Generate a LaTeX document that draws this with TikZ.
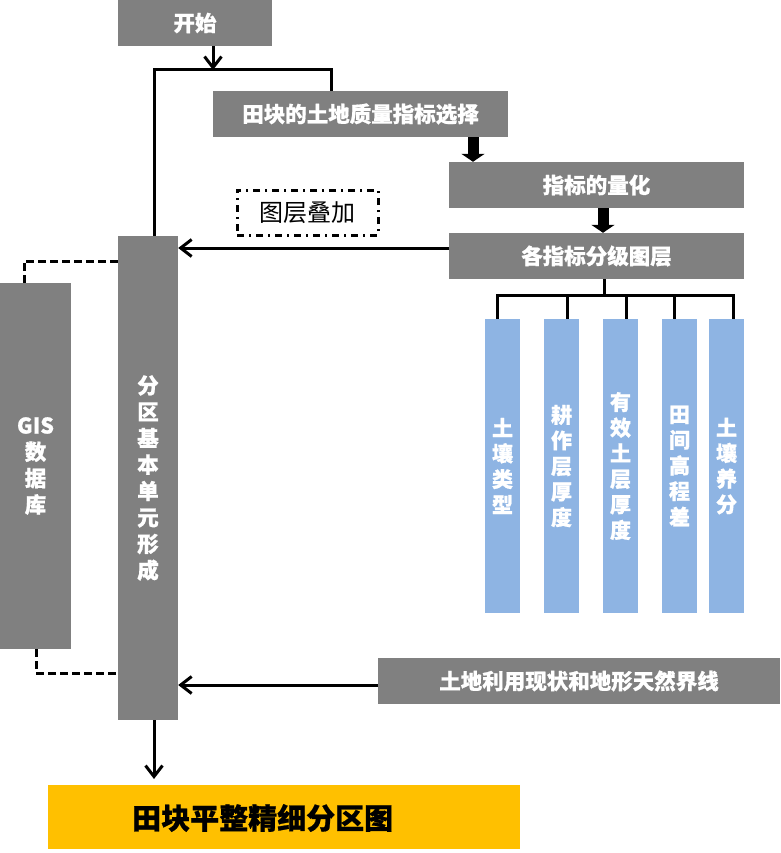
\documentclass[tikz,border=0pt]{standalone}
\usepackage{fontspec}
\newfontfamily\cjk{Noto Sans CJK SC}[BoldFeatures={FakeBold=0.8}]
\usetikzlibrary{arrows.meta,calc}
\definecolor{boxgray}{RGB}{128,128,128}
\definecolor{barblue}{RGB}{142,180,227}
\definecolor{orangefill}{RGB}{255,192,0}
\begin{document}
\begin{tikzpicture}[x=1pt,y=-1pt,
  gbox/.style={rectangle,fill=boxgray,inner sep=0pt,text=white,align=center,
    font=\cjk\bfseries\fontsize{21.5}{26.4}\selectfont},
  bbar/.style={rectangle,fill=barblue,inner sep=0pt,text=white,align=center,
    minimum width=35pt,minimum height=294pt,
    font=\cjk\bfseries\fontsize{21}{25.6}\selectfont},
  conn/.style={line width=3pt},
  arr/.style={conn,-{Straight Barb[length=11pt,width=17pt,line width=3pt]}},
  fatarr/.style={line width=11pt,-{Triangle[length=8pt,width=23pt]}},
  dashconn/.style={line width=3pt,dash pattern=on 8pt off 4pt},
]
\useasboundingbox (0,0) rectangle (780,853);

% boxes
\node[gbox,minimum width=154pt,minimum height=46pt] (start) at (195,23) {开始};
\node[gbox,minimum width=295pt,minimum height=46pt] (sel) at (360.5,114) {田块的土地质量指标选择};
\node[gbox,minimum width=295pt,minimum height=46pt] (quant) at (596.5,185) {指标的量化};
\node[gbox,minimum width=295pt,minimum height=46pt] (layers) at (596.5,256) {各指标分级图层};
\node[draw,line width=3pt,dash pattern=on 7pt off 5pt on 2pt off 5pt,inner sep=0pt,
  minimum width=141pt,minimum height=45pt,font=\cjk\fontsize{24}{28}\selectfont] (overlay) at (307.5,212.5) {图层叠加};
\node[gbox,minimum width=60pt,minimum height=484pt] (unit) at (148,478) {分\\区\\基\\本\\单\\元\\形\\成};
\node[gbox,minimum width=71pt,minimum height=366pt] (gis) at (35.5,466) {GIS\\数\\据\\库};
\node[bbar] (b1) at (502.5,466) {土\\壤\\类\\型};
\node[bbar] (b2) at (561.5,466) {耕\\作\\层\\厚\\度};
\node[bbar] (b3) at (620.5,466) {有\\效\\土\\层\\厚\\度};
\node[bbar] (b4) at (679.5,466) {田\\间\\高\\程\\差};
\node[bbar] (b5) at (726.5,466) {土\\壤\\养\\分};
\node[gbox,minimum width=402pt,minimum height=46pt] (land) at (579,681) {土地利用现状和地形天然界线};
\node[rectangle,fill=orangefill,inner sep=0pt,minimum width=472pt,minimum height=64pt] (result) at (284,817) {};
\node[anchor=west,inner sep=0pt,font=\cjk\bfseries\fontsize{29}{32}\selectfont] (resulttext) at (132,818) {田块平整精细分区图};

% connectors
\coordinate (jA) at (213,70);
\coordinate (jL) at (154,70);
\coordinate (jR) at (331,70);
\draw[arr] (start.south -| jA) -- (jA);
\draw[conn] (unit.north -| jL) -- (jL) -- (jR) -- (jR |- sel.north);

\draw[fatarr] (sel.south -| 473,0) -- (quant.north -| 473,0);
\draw[fatarr] (quant.south -| 603,0) -- (layers.north -| 603,0);

\coordinate (aL) at (449,248);
\draw[arr] (aL) -- (aL -| unit.east);

\coordinate (br) at (604,295);
\draw[conn] (layers.south -| br) -- (br);
\draw[conn,line cap=rect] (497,295) -- (733,295);
\foreach \n/\x in {b1/497,b2/567,b3/626,b4/674,b5/733}{
  \draw[conn] (\x,295) -- (\n.north -| \x,0);
}

\coordinate (dT) at (24,261);
\draw[dashconn] (gis.north -| dT) -- (dT) -- (dT -| unit.west);
\coordinate (dB) at (36,673);
\draw[dashconn] (gis.south -| dB) -- (dB) -- (dB -| unit.west);

\coordinate (aM) at (378,685);
\draw[arr] (aM) -- (aM -| unit.east);

\coordinate (aD) at (154,779);
\draw[arr] (unit.south -| aD) -- (aD);
\end{tikzpicture}
\end{document}
